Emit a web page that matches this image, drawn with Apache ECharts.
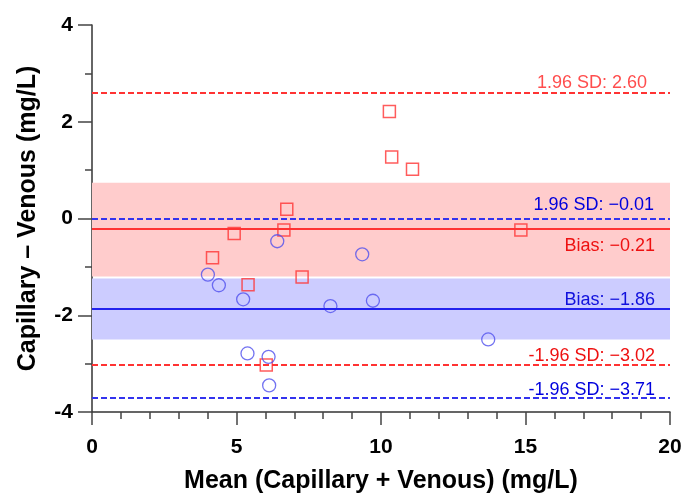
<!DOCTYPE html>
<html><head><meta charset="utf-8">
<script src="https://cdn.jsdelivr.net/npm/echarts@6/dist/echarts.min.js"></script>
<style>html,body{margin:0;padding:0;background:#fff}#c{width:684px;height:496px}</style>
</head><body><div id="c"></div>
<script>
// Red group (squares)
const redX = [10.29, 10.37, 11.09, 14.84, 6.74, 6.64, 4.92, 4.17, 5.40, 7.27, 6.03];
const redY = [2.21, 1.27, 1.02, -0.24, 0.19, -0.24, -0.31, -0.81, -1.37, -1.21, -3.03];
// Blue group (circles)
const blueX = [6.41, 9.35, 4.01, 4.39, 5.23, 8.25, 9.72, 5.38, 6.11, 6.13, 13.71];
const blueY = [-0.47, -0.74, -1.16, -1.38, -1.67, -1.81, -1.70, -2.79, -2.86, -3.45, -2.50];
// Bias and limits of agreement
const redBias = -0.21, redUpper = 2.60, redLower = -3.02;
const blueBias = -1.86, blueUpper = -0.01, blueLower = -3.71;
// Shaded bands
const redBand = [-1.20, 0.74];
const blueBand = [-2.50, -1.24];
// Axes
const xMin = 0, xMax = 20, xStep = 5;
const yMin = -4, yMax = 4, yStep = 2;
const xTitle = 'Mean (Capillary + Venous) (mg/L)';
const yTitle = 'Capillary \u2013 Venous (mg/L)';

const FONT = "'Liberation Sans', Arial, sans-serif";
function fmt(v) { return (v < 0 ? '\u2212' : '') + Math.abs(v).toFixed(2); }
function pairs(xs, ys) { return xs.map((x, i) => [x, ys[i]]); }

const RED = '#ff3333', BLUE = '#3333ee';
const dashed = c => ({ color: c, width: 2, type: [6, 3] });
const solid = c => ({ color: c, width: 2, type: 'solid' });
const lab = (text, pos, dist, color) => ({
  show: true, formatter: text, position: pos, distance: dist,
  color: color, fontSize: 18, fontFamily: FONT
});

const chart = echarts.init(document.getElementById('c'), null, { renderer: 'canvas' });
chart.setOption({
  animation: false,
  backgroundColor: '#fff',
  grid: { left: 92, right: 14, top: 25, bottom: 84, containLabel: false, outerBoundsMode: 'none' },
  xAxis: {
    type: 'value', min: xMin, max: xMax, interval: xStep,
    name: xTitle, nameLocation: 'middle', nameGap: 57,
    nameTextStyle: { fontSize: 25, fontWeight: 'bold', color: '#000', fontFamily: FONT },
    axisLine: { show: true, onZero: false, lineStyle: { color: '#333', width: 1.5 } },
    axisTick: { show: true, length: 13, lineStyle: { color: '#444', width: 1.5 } },
    minorTick: { show: true, splitNumber: 5, length: 7, lineStyle: { color: '#444', width: 1.5 } },
    axisLabel: { fontSize: 21, fontWeight: 'bold', color: '#000', margin: 25, fontFamily: FONT },
    splitLine: { show: false }
  },
  yAxis: {
    type: 'value', min: yMin, max: yMax, interval: yStep,
    name: yTitle, nameLocation: 'middle', nameGap: 51,
    nameTextStyle: { fontSize: 25, fontWeight: 'bold', color: '#000', fontFamily: FONT },
    axisLine: { show: true, onZero: false, lineStyle: { color: '#333', width: 1.5 } },
    axisTick: { show: true, length: 14, lineStyle: { color: '#444', width: 1.5 } },
    minorTick: { show: true, splitNumber: 2, length: 7, lineStyle: { color: '#444', width: 1.5 } },
    axisLabel: { fontSize: 21, fontWeight: 'bold', color: '#000', margin: 19, fontFamily: FONT },
    splitLine: { show: false }
  },
  series: [
    {
      type: 'line', data: [], z: 1, silent: true,
      markArea: {
        silent: true,
        data: [
          [{ yAxis: redBand[0], itemStyle: { color: '#ffcccc' } }, { yAxis: redBand[1] }],
          [{ yAxis: blueBand[0], itemStyle: { color: '#ccccff' } }, { yAxis: blueBand[1] }]
        ]
      }
    },
    {
      type: 'scatter', name: 'red', z: 3,
      data: pairs(redX, redY),
      symbol: 'rect', symbolSize: 12,
      itemStyle: { color: 'rgba(0,0,0,0)', borderColor: RED, borderWidth: 1.5 },
      markLine: {
        silent: true, symbol: ['none', 'none'],
        data: [
          { yAxis: redUpper, lineStyle: dashed(RED), label: lab('1.96 SD: ' + fmt(redUpper), 'insideEndTop', [23, 1], '#ff4d4d') },
          { yAxis: redBias, lineStyle: solid(RED), label: lab('Bias: ' + fmt(redBias), 'insideEndBottom', [15, 8], '#ee1111') },
          { yAxis: redLower, lineStyle: dashed(RED), label: lab('-1.96 SD: ' + fmt(redLower), 'insideEndTop', [15, -0.5], '#ee1111') }
        ]
      }
    },
    {
      type: 'scatter', name: 'blue', z: 3,
      data: pairs(blueX, blueY),
      symbol: 'circle', symbolSize: 13,
      itemStyle: { color: 'rgba(0,0,0,0)', borderColor: '#5050ee', borderWidth: 1.3 },
      markLine: {
        silent: true, symbol: ['none', 'none'],
        data: [
          { yAxis: blueUpper, lineStyle: dashed(BLUE), label: lab('1.96 SD: ' + fmt(blueUpper), 'insideEndTop', [16, 5], '#0000dd') },
          { yAxis: blueBias, lineStyle: solid('#2222ee'), label: lab('Bias: ' + fmt(blueBias), 'insideEndTop', [15, -1], '#1111dd') },
          { yAxis: blueLower, lineStyle: dashed(BLUE), label: lab('-1.96 SD: ' + fmt(blueLower), 'insideEndTop', [15, -1.3], '#0000dd') }
        ]
      }
    }
  ]
});
</script>
</body></html>
